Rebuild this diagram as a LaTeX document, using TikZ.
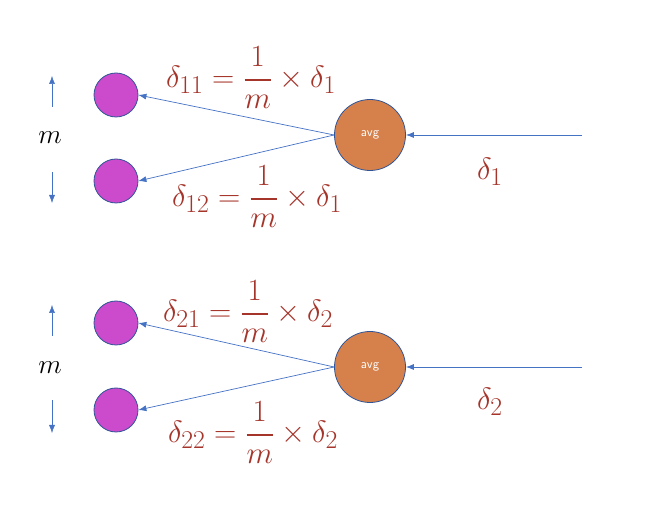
\documentclass[tikz,border=0pt]{standalone}
\usepackage{amsmath}
\usepackage{graphicx}
\usetikzlibrary{arrows.meta}
\definecolor{linkblue}{HTML}{4472C4}
\definecolor{rimblue}{HTML}{2F5597}
\definecolor{inputpurple}{HTML}{CC4ACC}
\definecolor{avgorange}{HTML}{D6814B}
\definecolor{gradred}{HTML}{A5342A}
\newcommand{\gradeq}[1]{\scalebox{1.24}{$\displaystyle #1$}}
\tikzset{
  unit/.style={circle, draw=rimblue, thick, fill=inputpurple,
    minimum size=44pt, inner sep=0pt},
  avgnode/.style={circle, draw=rimblue, thick, fill=avgorange,
    minimum size=71pt, inner sep=0pt, text=white,
    font=\sffamily\fontsize{13}{15}\selectfont},
  arrow/.style={-{Latex[length=8pt,width=6pt]}, linkblue, line width=0.7pt},
  grad/.style={text=gradred, font=\fontsize{24.88}{30}\selectfont, inner sep=0pt},
  mlabel/.style={font=\fontsize{24.88}{30}\selectfont, inner sep=0pt},
}
\begin{document}
\begin{tikzpicture}[x=1pt, y=-1pt]
\useasboundingbox (0,0) rectangle (662,510);

%% ---- FIRST GROUP ----
\node[unit] (u11) at (116,95) {};
\node[unit] (u12) at (116,181) {};
\node[avgnode] (avg1) at (370,135) {avg};
\coordinate (in1) at (582,135);
\draw[arrow] (in1) -- (avg1);
\draw[arrow] (avg1.west) -- (u11.east);
\draw[arrow] (avg1.west) -- (u12.east);

\node[grad] (d11) at (251,78) {\gradeq{\delta_{11}=\frac{1}{m}\times\delta_1}};
\node[grad] (d12) at (257,197) {\gradeq{\delta_{12}=\frac{1}{m}\times\delta_1}};
\node[grad] (d1) at (490,172) {\gradeq{\delta_1}};

\node[mlabel] (m1) at (50,138) {\scalebox{1.1}{$m$}};
\coordinate (m1top) at (52,76);
\coordinate (m1bot) at (52,203);
\draw[arrow, line width=0.5pt] (52,107) -- (m1top);
\draw[arrow, line width=0.5pt] (52,172) -- (m1bot);

%% ---- SECOND GROUP ----
\node[unit] (u21) at (116,323) {};
\node[unit] (u22) at (116,410) {};
\node[avgnode] (avg2) at (370,367) {avg};
\coordinate (in2) at (582,367);
\draw[arrow] (in2) -- (avg2);
\draw[arrow] (avg2.west) -- (u21.east);
\draw[arrow] (avg2.west) -- (u22.east);

\node[grad] (d21) at (248,312) {\gradeq{\delta_{21}=\frac{1}{m}\times\delta_2}};
\node[grad] (d22) at (253,433) {\gradeq{\delta_{22}=\frac{1}{m}\times\delta_2}};
\node[grad] (d2) at (490,402) {\gradeq{\delta_2}};

\node[mlabel] (m2) at (50,368) {\scalebox{1.1}{$m$}};
\coordinate (m2top) at (52,305);
\coordinate (m2bot) at (52,433);
\draw[arrow, line width=0.5pt] (52,336) -- (m2top);
\draw[arrow, line width=0.5pt] (52,400) -- (m2bot);

\end{tikzpicture}
\end{document}
